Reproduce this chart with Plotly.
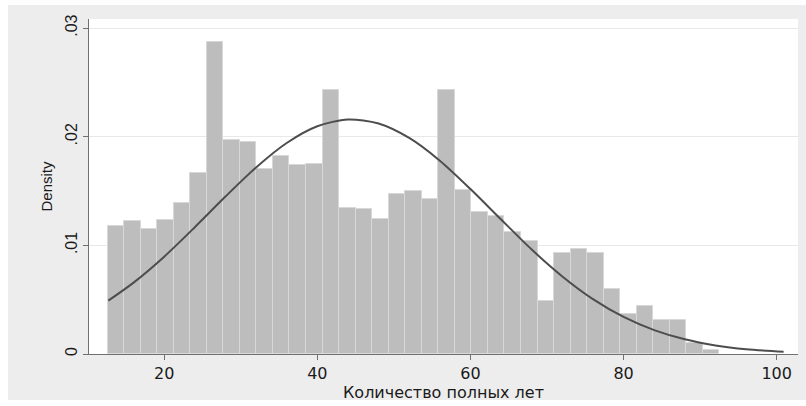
import plotly.graph_objects as go

# Histogram of completed years of age on a density scale (37 equal-width bins)
bin_start = 12.6
bin_width = 2.16
bar_density = [
    0.0118, 0.0122, 0.0115, 0.0123, 0.0139, 0.0167, 0.0287, 0.0197, 0.0195, 0.0170,
    0.0182, 0.0174, 0.0175, 0.0243, 0.0134, 0.0133, 0.0124, 0.0147, 0.0150, 0.0143,
    0.0243, 0.0151, 0.0131, 0.0127, 0.0112, 0.0104, 0.0049, 0.0093, 0.0097, 0.0093,
    0.0060, 0.0037, 0.0044, 0.0031, 0.0031, 0.0010, 0.0004,
]

# Overlaid normal density curve
curve_age = [12.7, 16, 20, 24, 28, 32, 36, 40, 44, 48, 52, 56, 60, 64, 68, 72, 76,
             80, 84, 88, 92, 96, 100.9]
curve_density = [0.00491, 0.00657, 0.00896, 0.01167, 0.01449, 0.01717, 0.01942, 0.02096,
                 0.02158, 0.02121, 0.01988, 0.01779, 0.01518, 0.01238, 0.00961, 0.00714,
                 0.00505, 0.00341, 0.00220, 0.00135, 0.00079, 0.00044, 0.00021]

x_ticks = [20, 40, 60, 80, 100]
y_ticks = [0, 0.01, 0.02, 0.03]
y_tick_text = ["0", ".01", ".02", ".03"]

bar_centers = [bin_start + bin_width * (i + 0.5) for i in range(len(bar_density))]

FONT_Y = "Liberation Sans, Arial, Helvetica, sans-serif"
FONT_X = "DejaVu Sans, Verdana, sans-serif"
W, H = 806, 406
ML, MR, MT, MB = 89, 8, 19, 52
PW, PH = W - ML - MR, H - MT - MB

fig = go.Figure()
fig.add_trace(go.Bar(
    x=bar_centers, y=bar_density, width=bin_width,
    marker=dict(color="#bdbdbd", line=dict(color="#d8d8d8", width=1)),
    hoverinfo="skip", showlegend=False,
))
fig.add_trace(go.Scatter(
    x=curve_age, y=curve_density, mode="lines",
    line=dict(color="#4d4d4d", width=2, shape="spline", smoothing=0.8),
    hoverinfo="skip", showlegend=False,
))


def px_x(p):
    return (p - ML) / PW


def px_y(p):
    return (H - MB - p) / PH


# outer grey panel with the white plotting region on top of it
fig.add_shape(type="rect", xref="paper", yref="paper", layer="below",
              x0=px_x(8), x1=px_x(806), y0=px_y(400), y1=px_y(5),
              fillcolor="#ededed", line=dict(width=0))
fig.add_shape(type="rect", xref="paper", yref="paper", layer="below",
              x0=0, x1=1, y0=0, y1=1, fillcolor="white", line=dict(width=0))

fig.update_layout(
    width=W, height=H,
    margin=dict(l=ML, r=MR, t=MT, b=MB, pad=0),
    paper_bgcolor="white", plot_bgcolor="white",
    bargap=0,
    font=dict(family=FONT_Y, color="#1a1a1a", size=14),
    xaxis=dict(
        range=[10.18, 102.78], tickvals=x_ticks,
        showgrid=False, zeroline=False,
        showline=True, linecolor="#707070", linewidth=1,
        ticks="outside", ticklen=5, tickcolor="#707070",
        tickfont=dict(family=FONT_X, size=16),
        title=dict(text="Количество полных лет",
                   font=dict(family=FONT_X, size=16), standoff=0),
    ),
    yaxis=dict(
        range=[0, 0.03083], tickvals=y_ticks, ticktext=y_tick_text,
        tickangle=-90,
        showgrid=True, gridcolor="#e8e8e8", gridwidth=1, zeroline=False,
        showline=True, linecolor="#707070", linewidth=1,
        ticks="outside", ticklen=5, tickcolor="#707070",
        tickfont=dict(size=16),
        title=dict(text="Density", font=dict(size=15), standoff=6),
    ),
)

fig.write_html("out.html")
